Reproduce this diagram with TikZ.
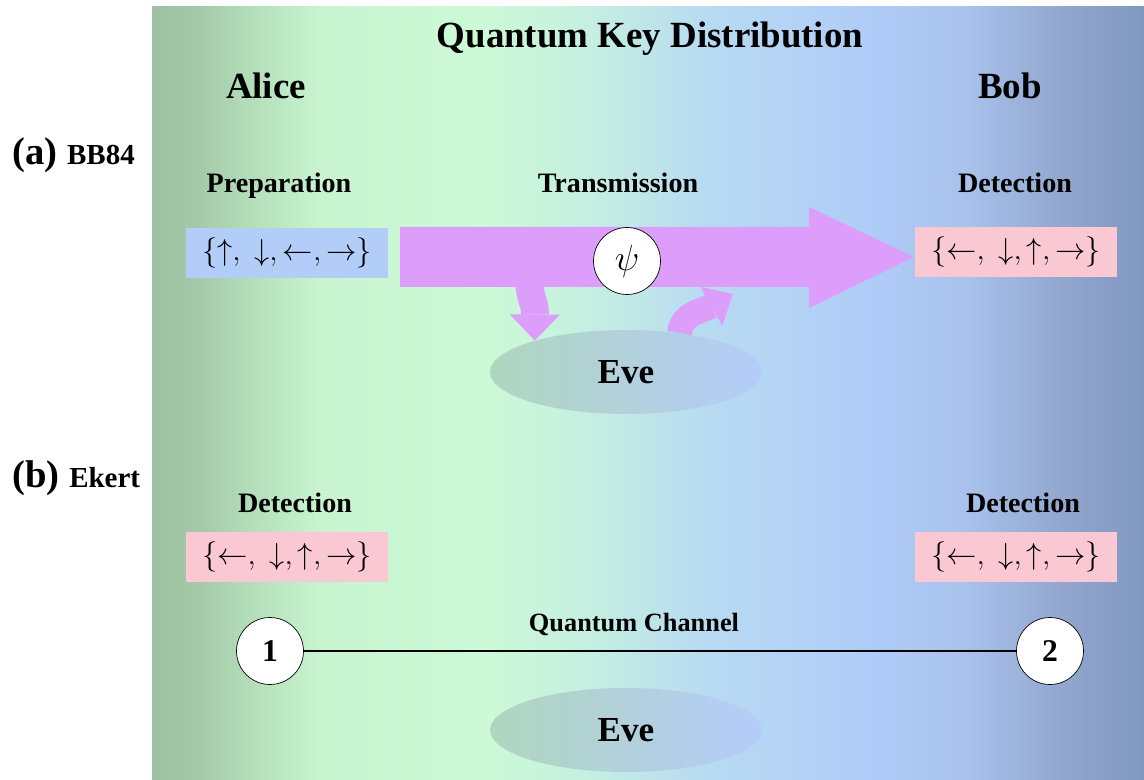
\documentclass[tikz,border=0pt]{standalone}
\usepackage{fontspec}
\setmainfont{Liberation Serif}
\usepackage{tikz}
\usetikzlibrary{arrows.meta,shapes.geometric,backgrounds}
\definecolor{qpurple}{RGB}{220,158,250}
\definecolor{qblue}{RGB}{178,206,248}
\definecolor{qpink}{RGB}{250,200,210}
\definecolor{evel}{RGB}{176,214,190}
\definecolor{ever}{RGB}{180,204,250}
\pgfdeclarehorizontalshading{qkdbg}{100bp}{rgb(0bp)=(0.612,0.753,0.627);
  rgb(25bp)=(0.612,0.753,0.627); rgb(27.5bp)=(0.647,0.792,0.667);
  rgb(30bp)=(0.706,0.871,0.729); rgb(33.5bp)=(0.784,0.957,0.816);
  rgb(41.5bp)=(0.804,0.980,0.839);
  rgb(47.5bp)=(0.769,0.933,0.886); rgb(53bp)=(0.722,0.855,0.949);
  rgb(61bp)=(0.690,0.800,0.973); rgb(66bp)=(0.659,0.761,0.925);
  rgb(71bp)=(0.573,0.651,0.808); rgb(75bp)=(0.502,0.596,0.753);
  rgb(100bp)=(0.502,0.596,0.753)}
\newcommand{\upset}{$\{{\uparrow},\;{\downarrow}{,}\,{\leftarrow}{,}\,{\rightarrow}\}$}
\newcommand{\dnset}{$\{{\leftarrow},\;{\downarrow}{,}\,{\uparrow}{,}\,{\rightarrow}\}$}

\begin{document}
\begin{tikzpicture}[x=0.02cm,y=-0.02cm,
  big/.style={font=\fontsize{21}{24}\selectfont\bfseries,anchor=base},
  hd/.style={font=\fontsize{16}{18}\selectfont\bfseries,anchor=base},
  setbox/.style={minimum width=4.04cm,minimum height=1cm,inner sep=0pt,
              font=\fontsize{17.28}{19}\selectfont},
  qbit/.style={circle,draw,fill=white,minimum size=1.34cm,inner sep=0pt,
              font=\fontsize{18}{20}\selectfont\bfseries},
  eve/.style={ellipse,left color=evel,right color=ever,minimum width=5.44cm,
              minimum height=1.68cm,inner sep=0pt,font=\fontsize{20}{22}\selectfont\bfseries},
  tap/.style={draw=qpurple,line width=0.56cm,
              -{Triangle[length=0.52cm,width=1cm,line width=0pt]}}]
\useasboundingbox (0,0) rectangle (1144,780);
\begin{scope}[on background layer]
\shade[shading=qkdbg] (152,7) rectangle (1144,780);
\end{scope}
\node[big] (title) at (650,48) {Quantum Key Distribution};
\node[big] (alice) at (266,99) {Alice};
\node[big] (bob) at (1010,99) {Bob};
\node[anchor=base west,inner sep=0pt] (lbla) at (12,165)
   {\fontsize{22}{24}\selectfont\bfseries (a)\ \fontsize{16.5}{18}\selectfont BB84};
\node[anchor=base west,inner sep=0pt] (lblb) at (12,488)
   {\fontsize{22}{24}\selectfont\bfseries (b)\ \fontsize{16.5}{18}\selectfont Ekert};
\node[hd] (prep) at (279,193) {Preparation};
\node[hd] (trans) at (618,193) {Transmission};
\node[hd] (detb) at (1015,193) {Detection};
\node[setbox,fill=qblue] (alset) at (287,253) {\upset};
\node[setbox,fill=qpink] (boset) at (1016,252) {\dnset};
\node[eve] (eveA) at (626,372) {Eve};
\fill[qpurple] (400,227) -- (809,227) -- (809,207) -- (914,257) -- (809,308)
   -- (809,287) -- (400,287) -- cycle;
\coordinate (cut) at (529,280);
\coordinate (back) at (733,294);
\draw[tap] (cut) .. controls (531,305) and (535,300) .. (eveA.161);
\begin{scope}[on background layer]
\draw[tap,line width=0.5cm,-{Triangle[length=0.5cm,width=0.9cm,line width=0pt]}]
   (eveA.36) .. controls (682,312) and (703,311) .. (back);
\end{scope}
\node[qbit,font=\fontsize{20.74}{22}\selectfont] (psi) at (627,261) {$\psi$};
\node[hd] (deta) at (295,513) {Detection};
\node[hd] (detc) at (1023,513) {Detection};
\node[setbox,fill=qpink] (aset) at (287,557) {\dnset};
\node[setbox,fill=qpink] (bset) at (1016,557) {\dnset};
\node[qbit] (one) at (270,651) {1};
\node[qbit] (two) at (1050,651) {2};
\draw[line width=1.2pt] (one) -- (two);
\node[hd,font=\fontsize{15}{17}\selectfont\bfseries] (qch) at (634,632) {Quantum Channel};
\node[eve] (eveB) at (626,730) {Eve};
\end{tikzpicture}
\end{document}
